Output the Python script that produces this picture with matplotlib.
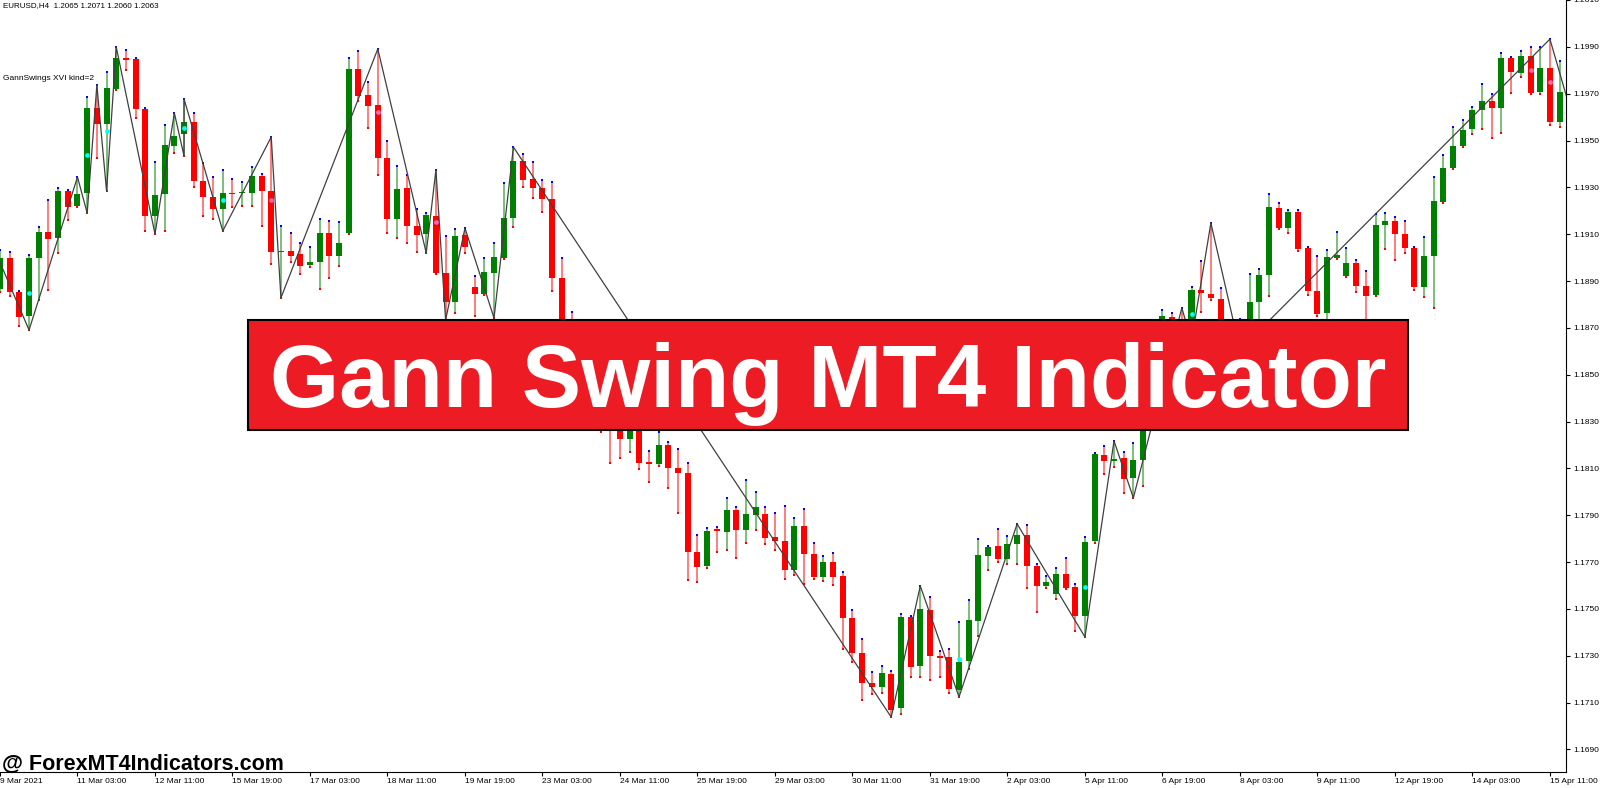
import numpy as np
import matplotlib.pyplot as plt
from matplotlib.patches import Rectangle

plt.rcParams['font.family'] = ['Liberation Sans', 'DejaVu Sans']

# EURUSD H4 candles (bar 0 = left edge)
opens = [
    1.18866, 1.18998, 1.18853, 1.18751, 1.18998, 1.19109, 1.19084, 1.19284,
    1.19220, 1.19276, 1.19639, 1.19571, 1.19720, 1.19852, 1.19848, 1.19635,
    1.19178, 1.19272, 1.19477, 1.19528, 1.19579, 1.19327, 1.19259, 1.19208,
    1.19276, 1.19276, 1.19276, 1.19348, 1.19284, 1.19024, 1.19028, 1.19015,
    1.18968, 1.18981, 1.19105, 1.19007, 1.19105, 1.19805, 1.19694, 1.19652,
    1.19425, 1.19165, 1.19297, 1.19135, 1.19101, 1.19178, 1.18934, 1.18810,
    1.19097, 1.18875, 1.18845, 1.18934, 1.18998, 1.19169, 1.19413, 1.19336,
    1.19297, 1.19250, 1.18913, 1.18691, 1.18520, 1.18401, 1.18285, 1.18358,
    1.18315, 1.18225, 1.18307, 1.18127, 1.18119, 1.18200, 1.18102, 1.18080,
    1.17743, 1.17683, 1.17841, 1.17828, 1.17922, 1.17837, 1.17901, 1.17905,
    1.17807, 1.17790, 1.17666, 1.17854, 1.17734, 1.17636, 1.17700, 1.17640,
    1.17461, 1.17312, 1.17184, 1.17167, 1.17222, 1.17077, 1.17465, 1.17256,
    1.17495, 1.17299, 1.17295, 1.17154, 1.17278, 1.17448, 1.17726, 1.17769,
    1.17713, 1.17777, 1.17816, 1.17683, 1.17598, 1.17564, 1.17649, 1.17594,
    1.17470, 1.17790, 1.18157, 1.18132, 1.18144, 1.18059, 1.18136, 1.18392,
    1.18627, 1.18746, 1.18725, 1.18670, 1.18862, 1.18845, 1.18823, 1.18670,
    1.18631, 1.18699, 1.18810, 1.18926, 1.19212, 1.19126, 1.19195, 1.19041,
    1.18857, 1.18763, 1.18998, 1.18921, 1.18977, 1.18879, 1.18840, 1.19139,
    1.19156, 1.19101, 1.19041, 1.18875, 1.19007, 1.19237, 1.19383, 1.19477,
    1.19549, 1.19630, 1.19669, 1.19639, 1.19852, 1.19788, 1.19861, 1.19707,
    1.19810, 1.19579,
]
highs = [
    1.19033, 1.19024, 1.18857, 1.19011, 1.19131, 1.19246, 1.19297, 1.19289,
    1.19344, 1.19686, 1.19737, 1.19793, 1.19899, 1.19887, 1.19852, 1.19639,
    1.19408, 1.19566, 1.19617, 1.19677, 1.19617, 1.19404, 1.19344, 1.19374,
    1.19336, 1.19323, 1.19387, 1.19357, 1.19515, 1.19135, 1.19105, 1.19062,
    1.19045, 1.19165, 1.19156, 1.19152, 1.19852, 1.19882, 1.19750, 1.19891,
    1.19498, 1.19391, 1.19353, 1.19208, 1.19190, 1.19374, 1.19092, 1.19122,
    1.19126, 1.18921, 1.18998, 1.19062, 1.19319, 1.19472, 1.19442, 1.19408,
    1.19331, 1.19323, 1.18998, 1.18768, 1.18563, 1.18443, 1.18401, 1.18401,
    1.18371, 1.18349, 1.18341, 1.18174, 1.18255, 1.18213, 1.18183, 1.18123,
    1.17816, 1.17845, 1.17850, 1.17974, 1.17935, 1.18050, 1.17999, 1.17935,
    1.17909, 1.17939, 1.17888, 1.17927, 1.17781, 1.17726, 1.17739, 1.17658,
    1.17495, 1.17371, 1.17231, 1.17256, 1.17235, 1.17478, 1.17470, 1.17598,
    1.17551, 1.17320, 1.17329, 1.17444, 1.17538, 1.17798, 1.17769, 1.17841,
    1.17811, 1.17863, 1.17858, 1.17692, 1.17640, 1.17675, 1.17717, 1.17606,
    1.17807, 1.18166, 1.18196, 1.18217, 1.18170, 1.18208, 1.18413, 1.18670,
    1.18776, 1.18763, 1.18785, 1.18875, 1.18986, 1.19148, 1.18870, 1.18712,
    1.18738, 1.18930, 1.18951, 1.19272, 1.19233, 1.19203, 1.19203, 1.19045,
    1.19007, 1.19033, 1.19109, 1.19041, 1.18990, 1.18943, 1.19186, 1.19190,
    1.19173, 1.19156, 1.19045, 1.19088, 1.19344, 1.19438, 1.19558, 1.19588,
    1.19643, 1.19741, 1.19699, 1.19874, 1.19857, 1.19882, 1.19899, 1.19899,
    1.19933, 1.19840,
]
lows = [
    1.18853, 1.18836, 1.18708, 1.18691, 1.18819, 1.18862, 1.19020, 1.19161,
    1.19216, 1.19190, 1.19425, 1.19284, 1.19716, 1.19801, 1.19596, 1.19114,
    1.19101, 1.19114, 1.19447, 1.19434, 1.19302, 1.19178, 1.19165, 1.19114,
    1.19216, 1.19220, 1.19220, 1.19135, 1.18973, 1.18828, 1.18981, 1.18930,
    1.18960, 1.18866, 1.18913, 1.18964, 1.19101, 1.19669, 1.19553, 1.19353,
    1.19105, 1.19084, 1.19062, 1.19024, 1.19020, 1.18930, 1.18734, 1.18763,
    1.19020, 1.18751, 1.18840, 1.18742, 1.18994, 1.19131, 1.19302, 1.19255,
    1.19195, 1.18857, 1.18584, 1.18477, 1.18349, 1.18272, 1.18255, 1.18123,
    1.18144, 1.18170, 1.18097, 1.18042, 1.18110, 1.18016, 1.17909, 1.17623,
    1.17615, 1.17675, 1.17743, 1.17752, 1.17717, 1.17781, 1.17837, 1.17777,
    1.17752, 1.17628, 1.17645, 1.17606, 1.17628, 1.17619, 1.17602, 1.17329,
    1.17273, 1.17111, 1.17137, 1.17141, 1.17038, 1.17051, 1.17209, 1.17209,
    1.17196, 1.17209, 1.17141, 1.17124, 1.17243, 1.17384, 1.17666, 1.17700,
    1.17692, 1.17692, 1.17589, 1.17487, 1.17589, 1.17542, 1.17585, 1.17406,
    1.17380, 1.17781, 1.18076, 1.18106, 1.17995, 1.17974, 1.18025, 1.18371,
    1.18597, 1.18627, 1.18657, 1.18644, 1.18768, 1.18819, 1.18640, 1.18614,
    1.18606, 1.18682, 1.18725, 1.18836, 1.19122, 1.19105, 1.19028, 1.18840,
    1.18751, 1.18734, 1.18994, 1.18917, 1.18853, 1.18734, 1.18836, 1.19037,
    1.18990, 1.19020, 1.18862, 1.18832, 1.18785, 1.19233, 1.19378, 1.19472,
    1.19528, 1.19549, 1.19511, 1.19532, 1.19703, 1.19771, 1.19699, 1.19699,
    1.19566, 1.19558,
]
closes = [
    1.18998, 1.18853, 1.18746, 1.18998, 1.19109, 1.19079, 1.19284, 1.19216,
    1.19272, 1.19639, 1.19571, 1.19724, 1.19852, 1.19844, 1.19635, 1.19178,
    1.19267, 1.19481, 1.19519, 1.19579, 1.19327, 1.19259, 1.19208, 1.19276,
    1.19272, 1.19280, 1.19348, 1.19284, 1.19024, 1.19028, 1.19007, 1.18964,
    1.18981, 1.19105, 1.19007, 1.19062, 1.19805, 1.19690, 1.19647, 1.19425,
    1.19165, 1.19293, 1.19135, 1.19097, 1.19182, 1.18934, 1.18810, 1.19092,
    1.19045, 1.18845, 1.18939, 1.19003, 1.19169, 1.19413, 1.19331, 1.19297,
    1.19250, 1.18913, 1.18627, 1.18520, 1.18401, 1.18328, 1.18358, 1.18277,
    1.18225, 1.18307, 1.18123, 1.18119, 1.18200, 1.18102, 1.18080, 1.17743,
    1.17679, 1.17833, 1.17833, 1.17922, 1.17837, 1.17905, 1.17935, 1.17803,
    1.17790, 1.17666, 1.17854, 1.17734, 1.17636, 1.17700, 1.17636, 1.17461,
    1.17312, 1.17184, 1.17167, 1.17226, 1.17068, 1.17465, 1.17252, 1.17500,
    1.17299, 1.17290, 1.17158, 1.17273, 1.17453, 1.17730, 1.17764, 1.17713,
    1.17777, 1.17816, 1.17683, 1.17598, 1.17615, 1.17649, 1.17589, 1.17470,
    1.17786, 1.18161, 1.18132, 1.18140, 1.18055, 1.18136, 1.18392, 1.18627,
    1.18751, 1.18670, 1.18691, 1.18862, 1.18849, 1.18828, 1.18670, 1.18631,
    1.18712, 1.18810, 1.18926, 1.19216, 1.19126, 1.19195, 1.19037, 1.18857,
    1.18759, 1.19003, 1.19011, 1.18977, 1.18879, 1.18836, 1.19139, 1.19156,
    1.19101, 1.19041, 1.18875, 1.19007, 1.19242, 1.19383, 1.19477, 1.19545,
    1.19630, 1.19669, 1.19639, 1.19852, 1.19793, 1.19861, 1.19703, 1.19810,
    1.19579, 1.19707,
]

# Gann swing zigzag pivots (bar index, price)
swing_bars = [-1, 3, 8, 9, 10, 11, 12, 16, 18, 19, 19, 23, 28, 29, 39, 44, 45,
              46, 48, 51, 53, 92, 95, 99, 105, 112, 115, 117, 122, 123, 125,
              128, 160, 162]
swing_prices = [1.19075, 1.18691, 1.19344, 1.19190, 1.19737, 1.19284, 1.19899,
                1.19101, 1.19617, 1.19434, 1.19677, 1.19114, 1.19515, 1.18828,
                1.19891, 1.19020, 1.19374, 1.18734, 1.19126, 1.18742, 1.19472,
                1.17038, 1.17598, 1.17124, 1.17863, 1.17380, 1.18217, 1.17974,
                1.18785, 1.18644, 1.19148, 1.18606, 1.19933, 1.19647]

cyan_bars = [3, 9, 11, 19, 23, 99, 112, 123]
pink_bars = [28, 39, 45, 158, 160]

date_labels = ['9 Mar 2021', '11 Mar 03:00', '12 Mar 11:00', '15 Mar 19:00',
               '17 Mar 03:00', '18 Mar 11:00', '19 Mar 19:00', '23 Mar 03:00',
               '24 Mar 11:00', '25 Mar 19:00', '29 Mar 03:00', '30 Mar 11:00',
               '31 Mar 19:00', '2 Apr 03:00', '5 Apr 11:00', '6 Apr 19:00',
               '8 Apr 03:00', '9 Apr 11:00', '12 Apr 19:00', '14 Apr 03:00',
               '15 Apr 11:00']
price_ticks = [1.1690 + 0.0020 * k for k in range(17)]

W, H = 1600, 788
fig = plt.figure(figsize=(W / 100, H / 100), dpi=100)
fig.patch.set_facecolor('white')
ax = fig.add_axes([0, 16 / H, 1566 / W, 772 / H])

x = np.arange(len(opens))
o, h, l, c = (np.array(v) for v in (opens, highs, lows, closes))
up = c >= o

# wicks then bodies
wick_col = np.where(up, '#7cbf7c', '#ff7d7d')
ax.vlines(x, l, h, colors=wick_col, lw=1.4, zorder=2)
body_col = np.where(up, '#008000', '#ff0000')
span = np.abs(c - o)
body_h = np.maximum(span, 0.00006)
ax.bar(x, body_h, bottom=np.minimum(o, c) - (body_h - span) / 2, width=0.62,
       color=body_col, linewidth=0, zorder=3)

# high / low marks
hi = h - np.maximum(o, c) > 0.00002
lo = np.minimum(o, c) - l > 0.00002
ax.plot(x[hi], h[hi], 's', color='#0000ff', ms=1.8, mew=0, zorder=4)
ax.plot(x[lo], l[lo], 's', color='#ff0000', ms=1.8, mew=0, zorder=4)

# swing line
ax.plot(swing_bars, swing_prices, color='#404040', lw=0.9, zorder=5)

mid = (h + l) / 2
ax.plot(cyan_bars, mid[cyan_bars], 'o', color='#00ffff', ms=3.4, mew=0, zorder=6)
ax.plot(pink_bars, mid[pink_bars], 'o', color='#ff69b4', ms=3.4, mew=0, zorder=6)

ax.set_xlim(0.05, 161.66)
ax.set_ylim(1.2010 - 0.0000427 * 772, 1.2010)

for s in ('top', 'left'):
    ax.spines[s].set_visible(False)
for s in ('right', 'bottom'):
    ax.spines[s].set_color('#000000')
    ax.spines[s].set_linewidth(0.8)

ax.yaxis.tick_right()
ax.set_yticks(price_ticks)
ax.set_yticklabels([f'{v:.4f}' for v in price_ticks])
ax.tick_params(axis='y', direction='out', length=3, width=0.8, pad=2,
               labelsize=6, colors='#000000')
ax.set_xticks(range(0, 161, 8))
ax.set_xticklabels(date_labels, ha='left')
ax.tick_params(axis='x', direction='out', length=3, width=0.8, pad=1.5,
               labelsize=6, colors='#000000')

fig.text(3 / W, 1 - 6 / H, 'EURUSD,H4  1.2065 1.2071 1.2060 1.2063',
         fontsize=5.8, va='center', ha='left')
fig.text(3 / W, 1 - 78 / H, 'GannSwings XVI kind=2', fontsize=6,
         va='center', ha='left')

# title banner
fig.add_artist(Rectangle((248 / W, 1 - 430 / H), 1160 / W, 110 / H,
                         transform=fig.transFigure, facecolor='#ed1c24',
                         edgecolor='#000000', lw=1.5, zorder=10))
fig.text(828 / W, 1 - 407 / H, 'Gann Swing MT4 Indicator', color='white',
         fontsize=64, fontweight='bold', ha='center', va='baseline', zorder=11)

fig.text(2 / W, 1 - 770 / H, '@ ForexMT4Indicators.com', color='black',
         fontsize=15.5, fontweight='bold', ha='left', va='baseline', zorder=11)

fig.savefig('out.png', dpi=100, facecolor='white')
